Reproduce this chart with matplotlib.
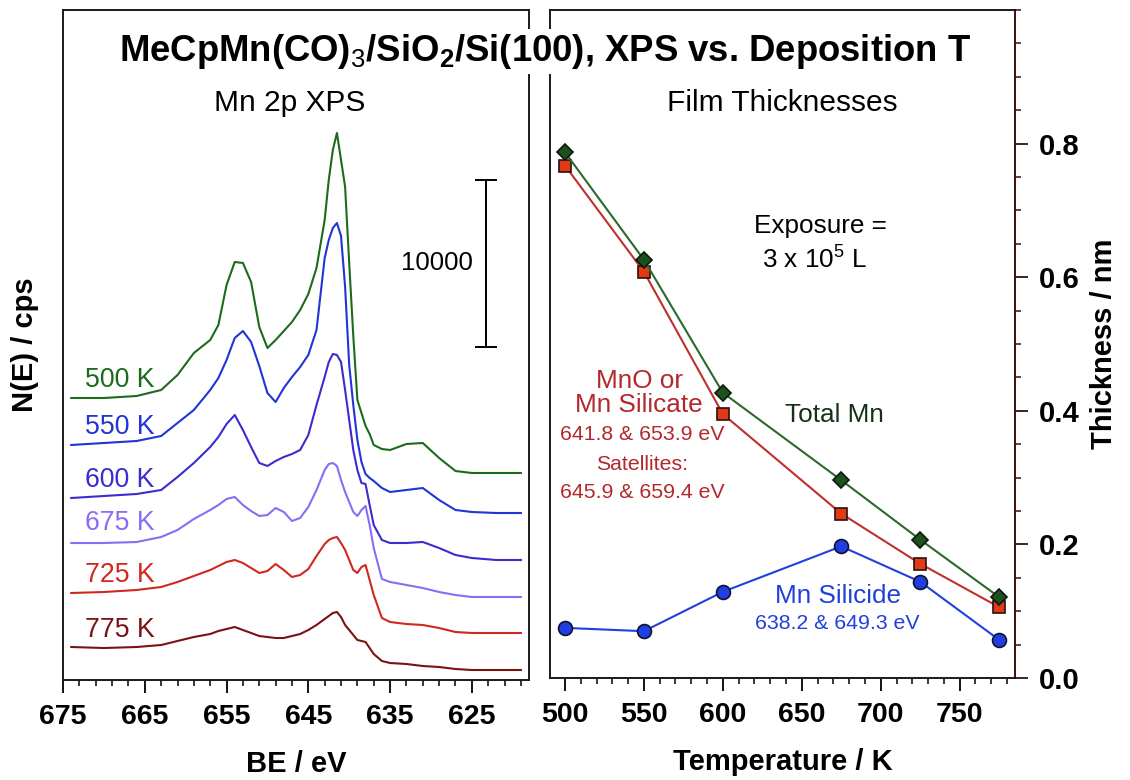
import matplotlib
matplotlib.use("Agg")
import matplotlib.pyplot as plt

plt.rcParams["font.family"] = ["Liberation Sans", "DejaVu Sans"]
plt.rcParams["mathtext.fontset"] = "custom"
plt.rcParams["mathtext.rm"] = "Liberation Sans"
plt.rcParams["mathtext.it"] = "Liberation Sans:italic"
plt.rcParams["mathtext.bf"] = "Liberation Sans:bold"

# Mn 2p spectra, binding energy in eV, intensity in cps (stacked as plotted)
be = [674, 670, 666, 663, 661, 659, 657, 656, 655, 654, 653, 652, 651, 650,
      649, 648, 647, 646, 645, 644, 643, 642.5, 642, 641.5, 641, 640.5, 640,
      639.5, 639, 638.5, 638, 637.5, 637, 636, 635, 633, 631, 629, 627, 625,
      622, 619]

spec_500 = [16920, 16920, 17040, 17400, 18300, 19620, 20400, 21300, 23700, 25080,
            25020, 23880, 21180, 19920, 20400, 20940, 21480, 22200, 23160, 24720,
            27600, 30000, 31800, 32820, 31200, 29580, 25020, 20640, 16800, 16020,
            15240, 14760, 14100, 13860, 13800, 14160, 14220, 13320, 12540, 12420,
            12420, 12420]
spec_550 = [14100, 14220, 14340, 14640, 15420, 16200, 17400, 18120, 19200, 20520,
            20940, 20280, 18840, 17220, 16680, 17520, 18180, 18780, 19500, 21000,
            25320, 26400, 27120, 27420, 26640, 23580, 18900, 16500, 14400, 13080,
            12360, 12120, 11940, 11520, 11280, 11400, 11520, 10800, 10200, 10080,
            10020, 10020]
spec_600 = [10920, 11040, 11160, 11400, 12180, 13020, 13980, 14580, 15360, 15900,
            15000, 13980, 13020, 12840, 13140, 13380, 13560, 13800, 14700, 16500,
            18180, 19080, 19560, 19500, 19080, 17400, 15600, 13800, 12600, 11820,
            11760, 10500, 9300, 8400, 8220, 8220, 8280, 7920, 7500, 7320,
            7200, 7200]
spec_675 = [8220, 8220, 8280, 8580, 9000, 9660, 10200, 10500, 10860, 10980,
            10500, 10140, 9840, 9900, 10320, 10080, 9540, 9720, 10380, 11400,
            12600, 12960, 13020, 12840, 12000, 11280, 10680, 10080, 9840, 10200,
            10440, 9300, 7920, 6060, 5880, 5700, 5520, 5280, 5100, 4980,
            4980, 4980]
spec_725 = [5220, 5280, 5400, 5580, 5880, 6240, 6600, 6840, 7080, 7200,
            7020, 6720, 6420, 6540, 6960, 6600, 6180, 6300, 6660, 7440,
            8160, 8400, 8520, 8580, 8220, 7800, 7200, 6600, 6420, 6780,
            6900, 6000, 5100, 3720, 3480, 3360, 3300, 3120, 2880, 2820,
            2820, 2820]
spec_775 = [1980, 1920, 1980, 2100, 2340, 2580, 2760, 2940, 3060, 3180,
            3000, 2820, 2640, 2580, 2520, 2520, 2640, 2760, 3000, 3300,
            3660, 3840, 4020, 4080, 3780, 3300, 3000, 2700, 2400, 2340,
            2280, 1920, 1560, 1140, 1020, 960, 840, 780, 660, 600,
            600, 600]

spectra = [spec_500, spec_550, spec_600, spec_675, spec_725, spec_775]
spec_names = ["500 K", "550 K", "600 K", "675 K", "725 K", "775 K"]
spec_label_y = [18000, 15180, 12000, 9420, 6300, 3000]
spec_colors = ["#1c6b1c", "#1f35d6", "#3a2ccf", "#8a6cf5", "#d0281e", "#7a1212"]

# film thickness vs deposition temperature
temps = [500, 550, 600, 675, 725, 775]
total_mn = [0.787, 0.626, 0.427, 0.296, 0.207, 0.121]
mno_silicate = [0.767, 0.608, 0.395, 0.246, 0.171, 0.106]
mn_silicide = [0.075, 0.070, 0.129, 0.197, 0.144, 0.057]

fig = plt.figure(figsize=(11.3, 7.8), dpi=100)
ax1 = fig.add_axes([0.0558, 0.1282, 0.4124, 0.859])
ax2 = fig.add_axes([0.4867, 0.1308, 0.4115, 0.8565])

# --- left: spectra ---
for ys, name, ly, c in zip(spectra, spec_names, spec_label_y, spec_colors):
    ax1.plot(be, ys, color=c, lw=1.5)
    ax1.text(672.3, ly, name, color=c, fontsize=19.2, ha="left", va="center")

# 10000 cps scale bar
ax1.errorbar([623.3], [25000], yerr=[5000], color="black", lw=1.4,
             capsize=8, capthick=1.4)
ax1.annotate("10000", (623.3, 25000), xytext=(-9, 0), textcoords="offset points",
             ha="right", va="center", fontsize=18.5)

ax1.set_xlim(675, 618)
ax1.set_ylim(0, 40200)
ax1.set_yticks([])
ax1.set_xticks([675, 665, 655, 645, 635, 625])
ax1.set_xticks(list(range(675, 618, -2)), minor=True)
ax1.text(0.487, 0.861, "Mn 2p XPS", transform=ax1.transAxes, ha="center",
         va="center", fontsize=21.5)
ax1.set_xlabel("BE / eV", fontsize=21, fontweight="bold", labelpad=15)
ax1.set_ylabel("N(E) / cps", fontsize=21, fontweight="bold", labelpad=17)

# --- right: thicknesses ---
ax2.plot(temps, mn_silicide, color="#2040e0", lw=1.5, marker="o", ms=10,
         mfc="#1f3fe0", mec="#111133", mew=1.2)
ax2.plot(temps, mno_silicate, color="#c0302a", lw=1.5, marker="s", ms=8.5,
         mfc="#e23a14", mec="#2a1010", mew=1.2)
ax2.plot(temps, total_mn, color="#2a6a2a", lw=1.5, marker="D", ms=8.5,
         mfc="#1f4f1f", mec="#0a1a0a", mew=1.2)

ax2.set_xlim(490.5, 785)
ax2.set_ylim(0, 1.0)
ax2.set_xticks([500, 550, 600, 650, 700, 750])
ax2.set_xticks(list(range(500, 790, 10)), minor=True)
ax2.yaxis.tick_right()
ax2.yaxis.set_label_position("right")
ax2.set_yticks([0.0, 0.2, 0.4, 0.6, 0.8])
ax2.set_yticks([i * 0.05 for i in range(21)], minor=True)
ax2.set_yticklabels(["0.0", "0.2", "0.4", "0.6", "0.8"])
ax2.spines["right"].set_color("#3d0c0c")
ax2.tick_params(axis="y", which="both", colors="#3d0c0c", labelcolor="black")
ax2.tick_params(axis="y", which="major", length=9, width=1.3, pad=8)
ax2.tick_params(axis="y", which="minor", length=4, width=1.1)
ax2.text(0.499, 0.861, "Film Thicknesses", transform=ax2.transAxes, ha="center",
         va="center", fontsize=21.5)
ax2.set_xlabel("Temperature / K", fontsize=21, fontweight="bold", labelpad=15)
ax2.set_ylabel("Thickness / nm", fontsize=21, fontweight="bold", labelpad=8)

big, small = 18.8, 15.3
ax2.text(661.6, 0.676, "Exposure =", ha="center", va="center", fontsize=big)
ax2.text(658.4, 0.625, r"3 x 10$^5$ L", ha="center", va="center", fontsize=big)
ax2.text(670.5, 0.394, "Total Mn", ha="center", va="center", fontsize=big,
         color="#143214")
red = "#b3282d"
ax2.text(547.5, 0.445, "MnO or", ha="center", va="center", fontsize=big, color=red)
ax2.text(546.5, 0.408, "Mn Silicate", ha="center", va="center", fontsize=big, color=red)
ax2.text(549.0, 0.364, "641.8 & 653.9 eV", ha="center", va="center", fontsize=small, color=red)
ax2.text(549.0, 0.320, "Satellites:", ha="center", va="center", fontsize=small, color=red)
ax2.text(549.0, 0.278, "645.9 & 659.4 eV", ha="center", va="center", fontsize=small, color=red)
blue = "#2040dd"
ax2.text(673, 0.123, "Mn Silicide", ha="center", va="center", fontsize=big, color=blue)
ax2.text(672.4, 0.081, "638.2 & 649.3 eV", ha="center", va="center", fontsize=small, color=blue)

for ax in (ax1, ax2):
    for side in ("left", "top", "bottom", "right"):
        ax.spines[side].set_linewidth(1.4)
    for side in ("left", "top", "bottom"):
        ax.spines[side].set_color("#1a1a1a")
    ax.tick_params(axis="x", which="major", length=9, width=1.3, pad=8,
                   labelsize=20.5)
    ax.tick_params(axis="x", which="minor", length=4, width=1.1)
    for lbl in ax.get_xticklabels():
        lbl.set_fontweight("bold")
ax1.spines["right"].set_color("#1a1a1a")
ax2.tick_params(axis="y", labelsize=21)
for lbl in ax2.get_yticklabels():
    lbl.set_fontweight("bold")

fig.text(0.482, 0.934,
         r"MeCpMn(CO)$_\mathit{3}$/SiO$_\mathbf{2}$/Si(100), XPS vs. Deposition T",
         ha="center", va="center", fontsize=26.3, fontweight="bold",
         bbox=dict(facecolor="white", edgecolor="none", pad=2))

fig.savefig("out.png", dpi=100)
